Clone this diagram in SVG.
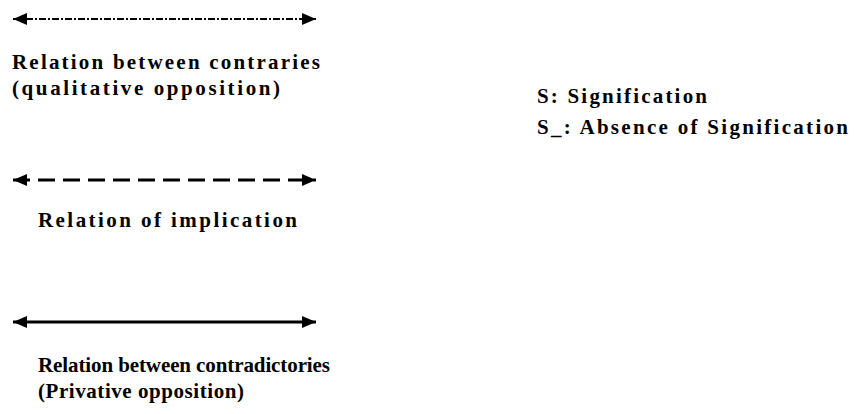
<svg xmlns="http://www.w3.org/2000/svg" width="856" height="414" viewBox="0 0 856 414">
<style>
text { font-family: "Liberation Serif", "DejaVu Serif", serif; font-weight: bold; font-size: 21px; fill: #000; }
.conn { stroke: #000; fill: none; }
</style>
<defs>
<marker id="ah" viewBox="0 0 14 12" refX="14" refY="6" markerWidth="14" markerHeight="12" markerUnits="userSpaceOnUse" orient="auto-start-reverse">
<path d="M0,0 L14,6 L0,12 Z" fill="#000"/>
</marker>
</defs>
<rect width="856" height="414" fill="#fff"/>
<g id="connectors">
<line class="conn" x1="13" y1="19" x2="316" y2="19" stroke-width="2" stroke-dasharray="7 2 2 2" marker-start="url(#ah)" marker-end="url(#ah)"/>
<line class="conn" x1="13" y1="180" x2="316" y2="180" stroke-width="3" stroke-dasharray="17 8" marker-start="url(#ah)" marker-end="url(#ah)"/>
<line class="conn" x1="13" y1="322" x2="316" y2="322" stroke-width="3" marker-start="url(#ah)" marker-end="url(#ah)"/>
</g>
<g id="legend-contraries">
<text x="12" y="69" textLength="308" lengthAdjust="spacing">Relation between contraries</text>
<text x="12" y="95" textLength="268" lengthAdjust="spacing">(qualitative opposition)</text>
</g>
<g id="legend-implication">
<text x="38" y="227" textLength="259" lengthAdjust="spacing">Relation of implication</text>
</g>
<g id="legend-contradictories">
<text x="38" y="372" textLength="292" lengthAdjust="spacing">Relation between contradictories</text>
<text x="38" y="398" textLength="206" lengthAdjust="spacing">(Privative opposition)</text>
</g>
<g id="legend-signification">
<text x="537" y="103" textLength="170" lengthAdjust="spacing">S: Signification</text>
<text x="537" y="134" textLength="311" lengthAdjust="spacing">S_: Absence of Signification</text>
</g>
</svg>
